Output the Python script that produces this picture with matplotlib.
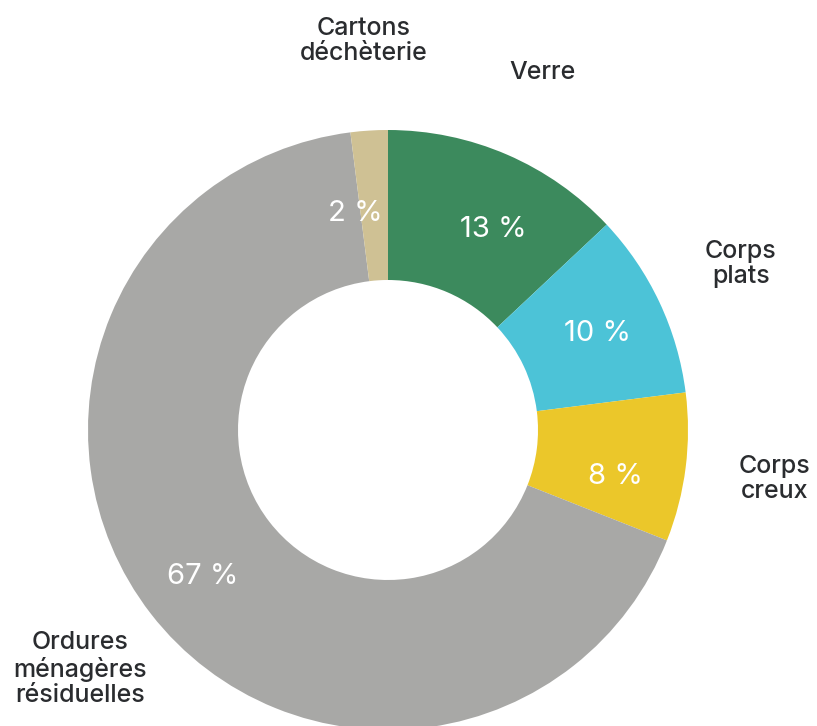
import matplotlib
matplotlib.use("Agg")
import matplotlib.pyplot as plt
from matplotlib.transforms import offset_copy

# data, clockwise from 12 o'clock
categories = [
    "Verre",
    "Corps\nplats",
    "Corps\ncreux",
    "Ordures\nménagères\nrésiduelles",
    "Cartons\ndéchèterie",
]
shares = [13, 10, 8, 67, 2]
colors = ["#3c8a5d", "#4cc3d7", "#ebc72a", "#a8a8a6", "#cfc194"]

plt.rcParams["font.family"] = ["Inter", "DejaVu Sans"]

fig = plt.figure(figsize=(8.17, 7.26), dpi=100)
# donut centre at (388, 430) px, radius 300 px; bottom runs off the figure
W, H = 817, 726
cx, cy, r = 388, H - 430, 300
ax = fig.add_axes([(cx - r) / W, (cy - r) / H, 2 * r / W, 2 * r / H])

wedges, texts, autotexts = ax.pie(
    shares,
    labels=categories,
    colors=colors,
    startangle=90,
    counterclock=False,
    radius=1,
    labeldistance=1.3,
    pctdistance=0.77,
    autopct=lambda p: f"{p:.0f} %",
    wedgeprops=dict(width=0.5, linewidth=0),
    textprops=dict(fontsize=18, color="#2a2c2f", fontweight=500),
)
for t in texts:
    t.set_horizontalalignment("center")
    t.set_verticalalignment("center")
    t.set_linespacing(1.12)

# small nudges (pixels) of the value labels, as placed in the original
nudges = [(14, -12), (0, -2), (-2, -18), (-3, -5), (-18, -14)]
for t, (dx, dy) in zip(autotexts, nudges):
    t.set_color("white")
    t.set_fontsize(21)
    t.set_fontweight(400)
    t.set_transform(offset_copy(ax.transData, fig=fig, x=dx, y=dy, units="dots"))

ax.set_xlim(-1, 1)
ax.set_ylim(-1, 1)
ax.set_aspect("equal")
ax.axis("off")

fig.savefig("out.png", dpi=100)
